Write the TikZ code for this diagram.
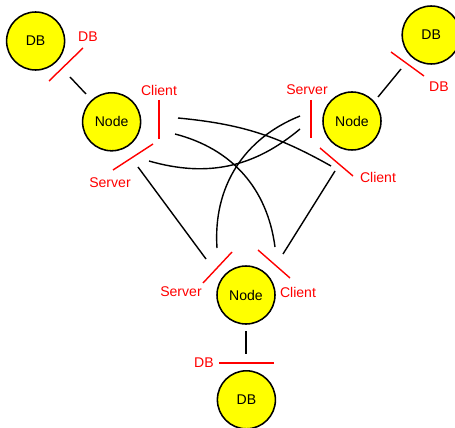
\documentclass[tikz,border=0pt]{standalone}
\usepackage{fontspec}
\setmainfont{Liberation Sans}
\usepackage{xcolor}
\usepackage{tikz}
\definecolor{plugred}{HTML}{FF0000}
\definecolor{unitfill}{HTML}{FFFF00}
\tikzset{
  unit/.style={circle, draw=black, fill=unitfill, line width=1.1pt, minimum size=1.45cm, inner sep=0pt, font=\fontsize{10}{12}\selectfont},
  wire/.style={draw=black, line width=1pt},
  plug/.style={draw=plugred, line width=1pt},
  labp/.style={text=plugred, font=\fontsize{10}{12}\selectfont}
}

\begin{document}
\begin{tikzpicture}[scale=1.0]
  \useasboundingbox (0,0) rectangle (11.375,10.675);

  % three peers, each with its own database
  \node[unit] (db1) at (0.89,9.65) {DB};
  \node[unit] (node1) at (2.79,7.63) {Node};
  \node[unit] (db2) at (10.78,9.80) {DB};
  \node[unit] (node2) at (8.80,7.65) {Node};
  \node[unit] (node3) at (6.15,3.30) {Node};
  \node[unit] (db3) at (6.16,0.68) {DB};

  % database sockets
  \coordinate (w1a) at (2.15,8.325);  \coordinate (w1b) at (1.75,8.75);
  \coordinate (s1a) at (1.225,8.65);  \coordinate (s1b) at (2.075,9.475);
  \coordinate (w2a) at (9.45,8.25);   \coordinate (w2b) at (10.025,8.95);
  \coordinate (s2a) at (9.775,9.375); \coordinate (s2b) at (10.6,8.775);
  \coordinate (w3a) at (6.15,2.4);    \coordinate (w3b) at (6.15,1.825);
  \coordinate (s3a) at (5.475,1.6);   \coordinate (s3b) at (6.85,1.6);

  \draw[wire] (w1a) -- (w1b);
  \draw[wire] (w2a) -- (w2b);
  \draw[wire] (w3a) -- (w3b);
  \draw[plug] (s1a) -- (s1b);
  \draw[plug] (s2a) -- (s2b);
  \draw[plug] (s3a) -- (s3b);
  \node[labp] (ldb1) at (2.2,9.75) {DB};
  \node[labp] (ldb2) at (10.975,8.5) {DB};
  \node[labp] (ldb3) at (5.1,1.61) {DB};

  % client and server sockets of every node
  \coordinate (c1a) at (3.975,8.175); \coordinate (c1b) at (3.975,7.2);
  \coordinate (v1a) at (2.825,6.425); \coordinate (v1b) at (3.825,7.075);
  \coordinate (v2a) at (7.775,8.175); \coordinate (v2b) at (7.775,7.225);
  \coordinate (c2a) at (8.0,6.975);   \coordinate (c2b) at (8.825,6.275);
  \coordinate (v3a) at (5.075,3.6);   \coordinate (v3b) at (5.8,4.375);
  \coordinate (c3a) at (6.45,4.425);  \coordinate (c3b) at (7.25,3.725);

  \draw[plug] (c1a) -- (c1b);
  \draw[plug] (v1a) -- (v1b);
  \draw[plug] (v2a) -- (v2b);
  \draw[plug] (c2a) -- (c2b);
  \draw[plug] (v3a) -- (v3b);
  \draw[plug] (c3a) -- (c3b);
  \node[labp] (lc1) at (3.975,8.425) {Client};
  \node[labp] (lv1) at (2.75,6.1) {Server};
  \node[labp] (lv2) at (7.675,8.425) {Server};
  \node[labp] (lc2) at (9.45,6.25) {Client};
  \node[labp] (lv3) at (4.525,3.375) {Server};
  \node[labp] (lc3) at (7.45,3.375) {Client};

  % peer-to-peer wiring
  \coordinate (a1) at (4.45,7.725);  \coordinate (a2) at (8.275,6.525);
  \coordinate (b1) at (4.375,7.325); \coordinate (b2) at (6.875,4.5);
  \coordinate (e1) at (3.725,6.65);  \coordinate (e2) at (7.5,7.45);
  \coordinate (d1) at (3.45,6.5);    \coordinate (d2) at (5.15,4.2);
  \coordinate (f1) at (7.5,7.775);   \coordinate (f2) at (5.425,4.475);
  \coordinate (g1) at (8.375,6.4);   \coordinate (g2) at (7.075,4.325);

  \draw[wire] (a1) to[bend left=12] (a2);
  \draw[wire] (b1) to[bend left=34] (b2);
  \draw[wire] (e1) to[bend right=28] (e2);
  \draw[wire] (d1) -- (d2);
  \draw[wire] (f1) to[bend right=36] (f2);
  \draw[wire] (g1) -- (g2);
\end{tikzpicture}
\end{document}
